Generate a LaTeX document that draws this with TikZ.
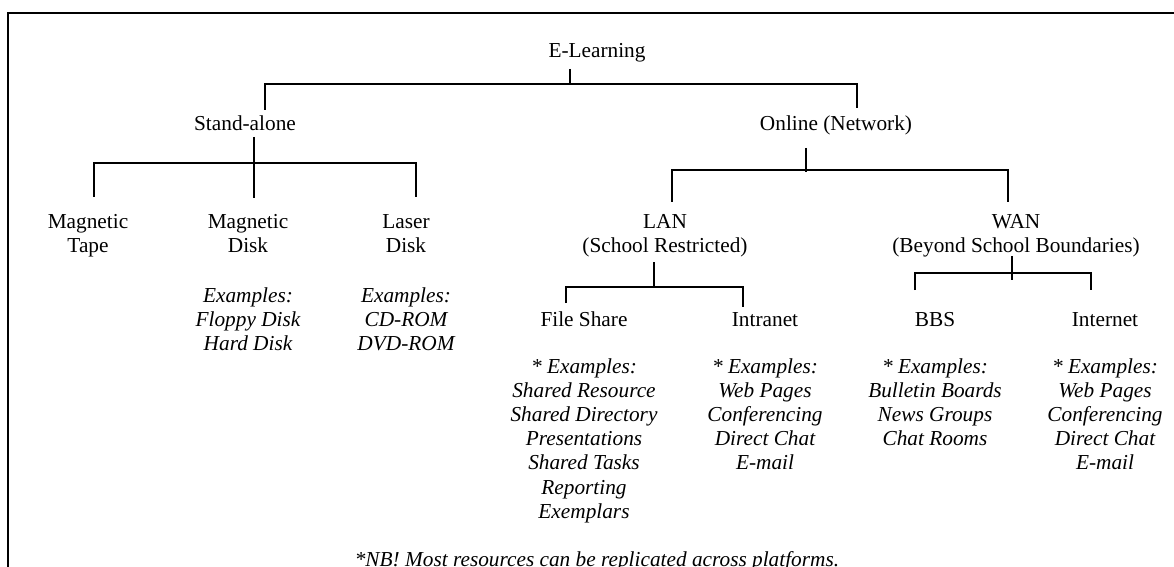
\documentclass[tikz,border=0pt]{standalone}
\usepackage{fontspec}
\setmainfont{Liberation Serif}
\newcommand{\mlines}[1]{\begin{tabular}[t]{@{}c@{}}#1\end{tabular}}
\begin{document}
\begin{tikzpicture}[x=0.5pt,y=-0.5pt,
  lbl/.style={anchor=base, inner sep=0pt, font=\fontsize{10.65}{12.1}\selectfont},
  ex/.style={lbl, font=\fontsize{10.65}{12.1}\selectfont\itshape},
  conn/.style={line width=0.8pt},
  frameline/.style={line width=1.35pt}]
\clip (0,0) rectangle (1174,567);
\fill[white] (0,0) rectangle (1174,567);
% frame
\draw[frameline] (8,570) -- (8,13) -- (1180,13);

% labels
\node[lbl] (el) at (597,58) {E-Learning};
\node[lbl] (sa) at (245,131) {Stand-alone};
\node[lbl] (on) at (836,131) {Online (Network)};
\node[lbl] (mt) at (88,228) {\mlines{Magnetic\\Tape}};
\node[lbl] (md) at (248,228) {\mlines{Magnetic\\Disk}};
\node[lbl] (ld) at (406,228) {\mlines{Laser\\Disk}};
\node[lbl] (lan) at (665,228) {\mlines{LAN\\(School Restricted)}};
\node[lbl] (wan) at (1016,228) {\mlines{WAN\\(Beyond School Boundaries)}};
\node[ex] (mdex) at (248,302) {\mlines{Examples:\\Floppy Disk\\Hard Disk}};
\node[ex] (ldex) at (406,302) {\mlines{Examples:\\CD-ROM\\DVD-ROM}};
\node[lbl] (fs) at (584,326) {File Share};
\node[lbl] (in) at (765,326) {Intranet};
\node[lbl] (bbs) at (935,326) {BBS};
\node[lbl] (inet) at (1105,326) {Internet};
\node[ex] (fsex) at (584,373) {\mlines{* Examples:\\Shared Resource\\Shared Directory\\Presentations\\Shared Tasks\\Reporting\\Exemplars}};
\node[ex] (inex) at (765,373) {\mlines{* Examples:\\Web Pages\\Conferencing\\Direct Chat\\E-mail}};
\node[ex] (bbsex) at (935,373) {\mlines{* Examples:\\Bulletin Boards\\News Groups\\Chat Rooms}};
\node[ex] (inetex) at (1105,373) {\mlines{* Examples:\\Web Pages\\Conferencing\\Direct Chat\\E-mail}};
\node[ex] (nb) at (597,566) {*NB! Most resources can be replicated across platforms.};

% junction coordinates
\coordinate (elT) at (570,69);  \coordinate (elB) at (570,84);
\coordinate (b1L) at (265,84);  \coordinate (b1R) at (857,84);
\coordinate (saD) at (265,110); \coordinate (onD) at (857,108);

\coordinate (saT) at (254,137); \coordinate (saB) at (254,165);
\coordinate (b2L) at (94,163);  \coordinate (b2M) at (254,163); \coordinate (b2R) at (416,163);
\coordinate (mtD) at (94,197);  \coordinate (mdD) at (254,198); \coordinate (ldD) at (416,197);

\coordinate (onT) at (806,148); \coordinate (onB) at (806,172);
\coordinate (b3L) at (672,170); \coordinate (b3R) at (1008,170);
\coordinate (lanD) at (672,202); \coordinate (wanD) at (1008,202);

\coordinate (lanT) at (654,262); \coordinate (lanB) at (654,287);
\coordinate (b4L) at (566,287); \coordinate (b4R) at (743,287);
\coordinate (fsD) at (566,303); \coordinate (inD) at (743,307);

\coordinate (wanT) at (1012,256); \coordinate (wanB) at (1012,280);
\coordinate (b5L) at (915,273); \coordinate (b5R) at (1091,273);
\coordinate (bbsD) at (915,290); \coordinate (inetD) at (1091,290);

% connectors
\draw[conn] (elT) -- (elB);
\draw[conn] (saD) -- (b1L) -- (b1R) -- (onD);
\draw[conn] (saT) -- (saB);
\draw[conn] (mtD) -- (b2L) -- (b2R) -- (ldD);
\draw[conn] (b2M) -- (mdD);
\draw[conn] (onT) -- (onB);
\draw[conn] (lanD) -- (b3L) -- (b3R) -- (wanD);
\draw[conn] (lanT) -- (lanB);
\draw[conn] (fsD) -- (b4L) -- (b4R) -- (inD);
\draw[conn] (wanT) -- (wanB);
\draw[conn] (bbsD) -- (b5L) -- (b5R) -- (inetD);
\end{tikzpicture}
\end{document}
